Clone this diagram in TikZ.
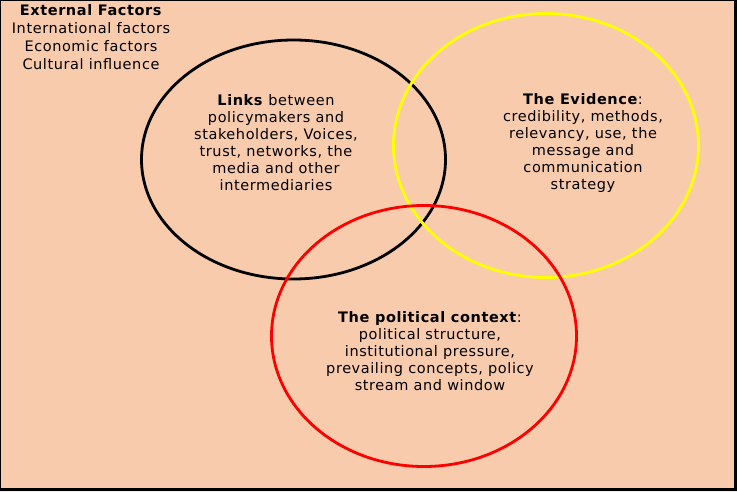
\documentclass[tikz,border=0pt]{standalone}
\usepackage{fontspec}
\setmainfont{DejaVu Sans}[LetterSpace=4]
\definecolor{peach}{HTML}{F8CBAD}
\definecolor{vyellow}{HTML}{FFFF00}
\definecolor{vred}{HTML}{FF0000}
\tikzset{
  txt/.style={align=center, inner sep=0pt, font=\fontsize{14.5}{17}\selectfont, text=black},
  ring/.style={line width=2.8pt}
}
\begin{document}
\begin{tikzpicture}[x=1pt,y=-1pt]
\useasboundingbox (0,0) rectangle (737,492);
\fill[white!92!black] (0,0) rectangle (737,492);
\fill[peach] (0,0) rectangle (735,490);
\draw[line width=1.3pt] (0.65,490) -- (0.65,0.5) -- (735,0.5);
\draw[line width=2.4pt] (0,489.3) -- (735.6,489.3) -- (735.6,0);
% circles
\draw[ring, black] (293.5,159.5) ellipse [x radius=152, y radius=119.5];
\draw[ring, vyellow] (546,145.5) ellipse [x radius=152.5, y radius=132];
\draw[ring, vred] (424,336) ellipse [x radius=152.5, y radius=130.5];
% texts
\node[txt, font=\fontsize{14.5}{18}\selectfont] (ext) at (91,37.5)
  {\textbf{External Factors}\\International factors\\Economic factors\\Cultural influence};
\node[txt] (links) at (276,142.5)
  {\textbf{Links} between\\policymakers and\\stakeholders, Voices,\\trust, networks, the\\media and other\\intermediaries};
\node[txt] (evid) at (583,142.5)
  {\textbf{The Evidence}:\\credibility, methods,\\relevancy, use, the\\message and\\communication\\strategy};
\node[txt] (pol) at (430,351)
  {\textbf{The political context}:\\political structure,\\institutional pressure,\\prevailing concepts, policy\\stream and window};
\end{tikzpicture}
\end{document}
